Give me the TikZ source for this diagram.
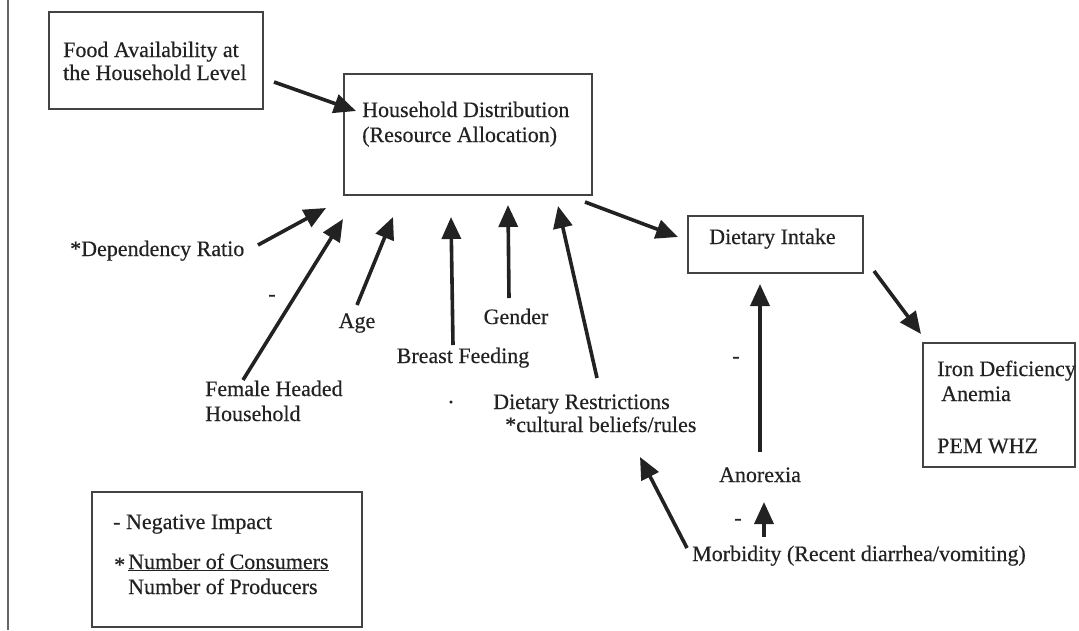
\documentclass[tikz,border=0pt]{standalone}
\usepackage{fontspec}
\setmainfont{Liberation Serif}
\newfontfamily\scanfont{Liberation Serif}[FakeBold=0.4]
\usetikzlibrary{arrows.meta}
\definecolor{ink}{HTML}{222222}
\tikzset{
  lbl/.style={font=\scanfont\fontsize{22}{24}\selectfont, text=ink, inner sep=0pt},
  frame/.style={draw=ink!85, line width=1.4pt, inner sep=0pt},
  arr/.style={draw=ink, line width=3.6pt, -{Triangle[length=22pt,width=19pt]}},
}
\begin{document}
\begin{tikzpicture}[x=1pt,y=-1pt]
\useasboundingbox (0,0) rectangle (1079,630);
\fill[white] (0,0) rectangle (1079,630);
\draw[gray!80!black, line width=1.6pt] (8,0) -- (8,630);

% boxes
\node[frame, minimum width=214pt, minimum height=97pt] (food) at (156,60.5) {};
\node[lbl, anchor=base west] (food1) at (63,57) {Food Availability at};
\node[lbl, anchor=base west] (food2) at (63,80) {the Household Level};

\node[frame, minimum width=248pt, minimum height=121pt] (hd) at (468,134.5) {};
\node[lbl, anchor=base west] (hd1) at (362,117) {Household Distribution};
\node[lbl, anchor=base west] (hd2) at (362,142) {(Resource Allocation)};

\node[frame, minimum width=175pt, minimum height=57pt] (di) at (775.5,244.5) {};
\node[lbl, anchor=base west] (di1) at (709,244) {Dietary Intake};

\node[frame, minimum width=152pt, minimum height=124pt] (iron) at (999,405) {};
\node[lbl, anchor=base west] (iron1) at (937,376) {Iron Deficiency};
\node[lbl, anchor=base west] (iron2) at (941,401) {Anemia};
\node[lbl, anchor=base west] (iron3) at (937,453) {PEM WHZ};

\node[frame, minimum width=270pt, minimum height=135pt] (leg) at (227,559.5) {};
\node[lbl, anchor=base west] (leg1) at (113,529) {- Negative Impact};
\node[lbl, anchor=base west] (leg2s) at (114,572) {*};
\node[lbl, anchor=base west] (leg2) at (128,569) {\underline{Number of Consumers}};
\node[lbl, anchor=base west] (leg3) at (128,594) {Number of Producers};

% factor labels
\node[lbl, anchor=base west] (dep) at (70,256) {*Dependency Ratio};
\node[lbl, anchor=base west] (fh1) at (205,396) {Female Headed};
\node[lbl, anchor=base west] (fh2) at (205,421) {Household};
\node[lbl, anchor=base] (age) at (357,328) {Age};
\node[lbl, anchor=base] (bf) at (463,363) {Breast Feeding};
\node[lbl, anchor=base] (gen) at (516,324) {Gender};
\node[lbl, anchor=base west] (dr1) at (493,409) {Dietary Restrictions};
\node[lbl, anchor=base west] (dr2) at (505,432) {*cultural beliefs/rules};
\node[lbl, anchor=base] (ano) at (760,482) {Anorexia};
\node[lbl, anchor=base west] (morb) at (692,561) {Morbidity (Recent diarrhea/vomiting)};
\node[lbl] (m1) at (272,298) {-};
\node[lbl] (m2) at (736,360) {-};
\node[lbl] (m3) at (738,522) {-};
\node[lbl] (dot) at (451,405) {\textperiodcentered};

% connector end points
\coordinate (f0) at (274,82);   \coordinate (f1) at (356,111);
\coordinate (d0) at (258,245);  \coordinate (d1) at (326,208);
\coordinate (h0) at (243,380);  \coordinate (h1) at (343,219);
\coordinate (a0) at (357,305);  \coordinate (a1) at (393,217);
\coordinate (b0) at (453,345);  \coordinate (b1) at (451,217);
\coordinate (g0) at (509,298);  \coordinate (g1) at (508,205);
\coordinate (r0) at (597,378);  \coordinate (r1) at (558,206);
\coordinate (x0) at (585,202);  \coordinate (x1) at (678,237);
\coordinate (i0) at (874,271);  \coordinate (i1) at (921,334);
\coordinate (n0) at (760,452);  \coordinate (n1) at (760,284);
\coordinate (m0) at (764,537);  \coordinate (mm) at (764,502);
\coordinate (q0) at (687,548);  \coordinate (q1) at (640,457);

\draw[arr] (f0) -- (f1);
\draw[arr] (d0) -- (d1);
\draw[arr] (h0) -- (h1);
\draw[arr] (a0) -- (a1);
\draw[arr] (b0) -- (b1);
\draw[arr] (g0) -- (g1);
\draw[arr] (r0) -- (r1);
\draw[arr] (x0) -- (x1);
\draw[arr] (i0) -- (i1);
\draw[arr] (n0) -- (n1);
\draw[arr] (m0) -- (mm);
\draw[arr] (q0) -- (q1);
\end{tikzpicture}
\end{document}
